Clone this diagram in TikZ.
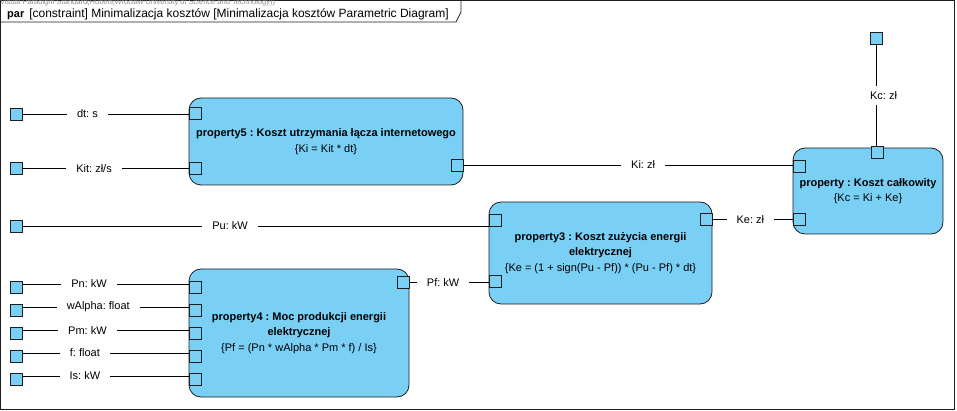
\documentclass[tikz,border=0pt]{standalone}
\usepackage{fontspec}
\setmainfont{Liberation Sans}
\frenchspacing
\definecolor{blk}{RGB}{122,207,245}
\definecolor{edge}{RGB}{30,30,30}
\definecolor{wm}{RGB}{140,140,140}
\tikzset{
  block/.style={draw=edge, fill=blk, rounded corners=12pt, line width=0.8pt, align=center,
    font=\fontsize{11}{15.5}\selectfont, inner sep=0pt},
  port/.style={draw=edge, fill=blk, minimum size=12pt, inner sep=0pt, line width=0.8pt},
  conn/.style={draw=black, line width=0.8pt},
  lbl/.style={fill=white, inner xsep=10pt, inner ysep=1pt, font=\fontsize{11}{13}\selectfont},
  vlbl/.style={fill=white, inner xsep=1pt, inner ysep=5pt, font=\fontsize{11}{13}\selectfont}
}
\begin{document}
\begin{tikzpicture}[x=1pt,y=-1pt]
\useasboundingbox (0,0) rectangle (957,411);
% frame
\draw[edge, line width=1.1pt] (0.6,0.6) rectangle (954.5,409.5);
\draw[edge, line width=0.8pt] (0.6,22) -- (456,22) -- (461,12) -- (461,0.6);
\node[anchor=base west, inner sep=0pt, text=wm, font=\fontsize{7.5}{8}\selectfont] (wmark) at (0,5)
  {Visual Paradigm Standard(Hubert(Wroclaw University of Science and Technology))};
\node[anchor=base west, inner sep=0pt] (title) at (7,18)
  {{\fontsize{11}{12}\selectfont\bfseries par}\hspace{5pt}{\fontsize{12}{13}\selectfont [constraint] Minimalizacja kosztów [Minimalizacja kosztów Parametric Diagram]}};

% blocks
\node[block, minimum width=274pt, minimum height=87pt] (p5) at (326,141.5)
  {\textbf{property5 : Koszt utrzymania łącza internetowego}\\{\{Ki = Kit * dt\}}};
\node[block, minimum width=150pt, minimum height=86pt] (pk) at (868,191)
  {\textbf{property : Koszt całkowity}\\{\{Kc = Ki + Ke\}}};
\node[block, minimum width=223pt, minimum height=102pt] (p3) at (600.5,253)
  {\textbf{property3 : Koszt zużycia energii}\\\textbf{elektrycznej}\\{\{Ke = (1 + sign(Pu - Pf)) * (Pu - Pf) * dt\}}};
\node[block, minimum width=220pt, minimum height=128pt] (p4) at (299,333)
  {\textbf{property4 : Moc produkcji energii}\\\textbf{elektrycznej}\\{\{Pf = (Pn * wAlpha * Pm * f) / Is\}}};

% block ports
\node[port] (p5a) at (195.5,113.5) {};
\node[port] (p5b) at (195.5,168.5) {};
\node[port] (p5c) at (457,165) {};
\node[port] (pkt) at (877,152.5) {};
\node[port] (pka) at (799.5,166) {};
\node[port] (pkb) at (799.5,219) {};
\node[port] (p3a) at (495.5,220) {};
\node[port] (p3b) at (495.5,281.5) {};
\node[port] (p3c) at (706,219.5) {};
\node[port] (p4a) at (195.5,287) {};
\node[port] (p4b) at (195.5,310) {};
\node[port] (p4c) at (195.5,333.5) {};
\node[port] (p4d) at (195.5,356) {};
\node[port] (p4e) at (195.5,379) {};
\node[port] (p4r) at (403.5,282.5) {};

% external ports
\node[port] (xdt) at (16,114) {};
\node[port] (xkit) at (16,168.5) {};
\node[port] (xpu) at (16,226) {};
\node[port] (xpn) at (16,287) {};
\node[port] (xwa) at (16,310) {};
\node[port] (xpm) at (16,333.5) {};
\node[port] (xf) at (16,356) {};
\node[port] (xis) at (16,379) {};
\node[port] (xkc) at (876.5,38.5) {};

% connectors
\draw[conn] (xdt.east) -- (xdt.east -| p5a.west) node[lbl, pos=0.39] {dt: s};
\draw[conn] (xkit.east) -- (xkit.east -| p5b.west) node[lbl, pos=0.43] {Kit: zł/s};
\draw[conn] (p5c.east) -- (p5c.east -| pka.west) node[lbl, pos=0.545] {Ki: zł};
\draw[conn] (xpu.east) -- (xpu.east -| p3a.west) node[lbl, pos=0.445] {Pu: kW};
\draw[conn] (p3c.east) -- (p3c.east -| pkb.west) node[lbl, pos=0.47] {Ke: zł};
\draw[conn] (p4r.east) -- (p4r.east -| p3b.west) node[lbl, pos=0.42] {Pf: kW};
\draw[conn] ([yshift=3pt]xpn.east) -- ([yshift=3pt]xpn.east -| p4a.west) node[lbl, pos=0.40] {Pn: kW};
\draw[conn] ([yshift=3pt]xwa.east) -- ([yshift=3pt]xwa.east -| p4b.west) node[lbl, pos=0.455] {wAlpha: float};
\draw[conn] ([yshift=3pt]xpm.east) -- ([yshift=3pt]xpm.east -| p4c.west) node[lbl, pos=0.39] {Pm: kW};
\draw[conn] ([yshift=3pt]xf.east) -- ([yshift=3pt]xf.east -| p4d.west) node[lbl, pos=0.375] {f: float};
\draw[conn] ([yshift=3pt]xis.east) -- ([yshift=3pt]xis.east -| p4e.west) node[lbl, pos=0.375] {Is: kW};
\draw[conn] (xkc.south) -- (xkc.south |- pkt.north) node[vlbl, pos=0.5, xshift=7pt] {Kc: zł};
\end{tikzpicture}
\end{document}
